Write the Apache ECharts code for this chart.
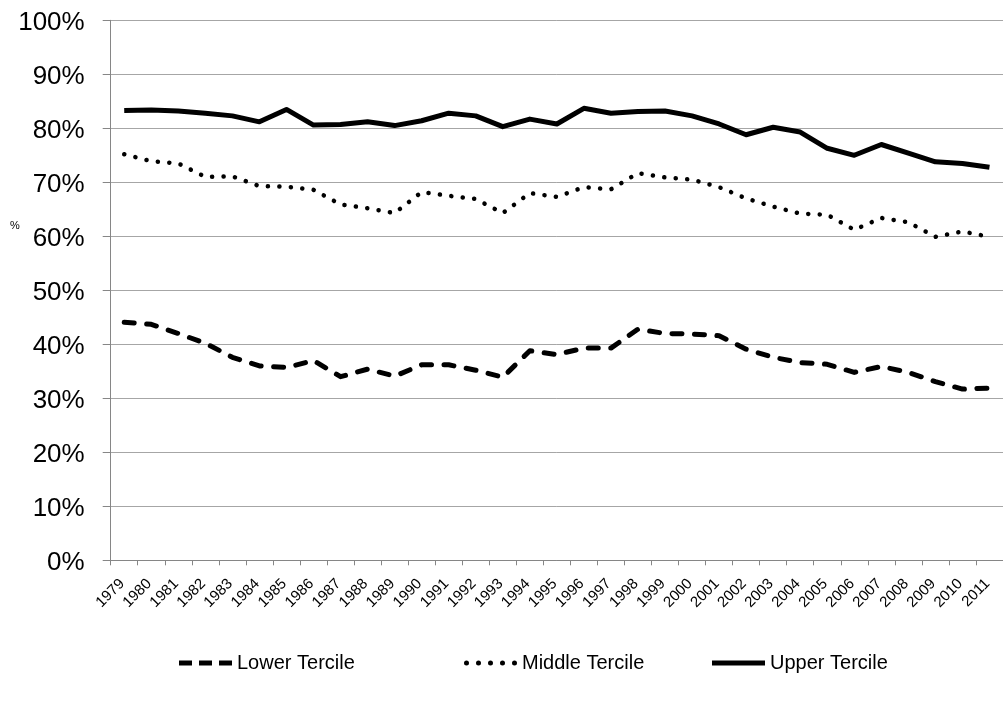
<!DOCTYPE html>
<html>
<head>
<meta charset="utf-8">
<script src="https://cdn.jsdelivr.net/npm/echarts@6/dist/echarts.min.js"></script>
<style>
html,body{margin:0;padding:0;background:#fff;}
#chart{width:1003px;height:706px;}
</style>
</head>
<body>
<div id="chart"></div>
<script>
const years = ['1979','1980','1981','1982','1983','1984','1985','1986','1987','1988','1989','1990','1991','1992','1993','1994','1995','1996','1997','1998','1999','2000','2001','2002','2003','2004','2005','2006','2007','2008','2009','2010','2011'];
const lowerTercile = [44.1,43.7,42.0,40.2,37.6,36.0,35.7,37.0,34.0,35.4,34.1,36.2,36.2,35.2,33.9,38.8,38.1,39.3,39.3,42.8,42.0,41.9,41.6,39.1,37.6,36.6,36.3,34.8,35.9,34.8,33.1,31.7,31.9];
const middleTercile = [75.2,73.9,73.5,71.0,71.1,69.3,69.2,68.6,65.9,65.2,64.3,68.2,67.5,66.9,64.3,68.0,67.3,69.1,68.7,71.7,70.9,70.5,69.1,67.0,65.5,64.2,64.0,61.2,63.4,62.6,59.9,60.9,59.9];
const upperTercile = [83.3,83.4,83.2,82.8,82.3,81.2,83.5,80.6,80.7,81.2,80.5,81.4,82.8,82.3,80.3,81.7,80.8,83.7,82.8,83.1,83.2,82.3,80.8,78.8,80.2,79.3,76.3,75.0,77.0,75.4,73.8,73.5,72.8];
const yTicks = [0,10,20,30,40,50,60,70,80,90,100];

const FONT = 'Liberation Sans, Arial, sans-serif';
const dashIcon = 'path://M0,0h13v5h-13z M20,0h13v5h-13z M40,0h13v5h-13z';
function dot(cx){ return 'M' + (cx-2.5) + ',2.5a2.5,2.5 0 1,0 5,0a2.5,2.5 0 1,0 -5,0z'; }
const dotIcon = 'path://' + [2.5,14.5,26.5,38.5,50.5].map(dot).join(' ');
const solidIcon = 'path://M0,0h53v5h-53z';

const chart = echarts.init(document.getElementById('chart'), null, {renderer:'canvas'});
function legendItem(name, icon, left){
  return {data:[{name:name, icon:icon}], left:left, top:653, itemWidth:53, itemHeight:5, itemGap:0,
    selectedMode:false, padding:0, itemStyle:{color:'#000', borderWidth:0},
    textStyle:{fontFamily:FONT, fontSize:20, color:'#000'}};
}
chart.setOption({
  animation:false,
  backgroundColor:'#fff',
  grid:{left:110.7, top:20.3, width:896, height:540, containLabel:false},
  xAxis:{
    type:'category', data:years, boundaryGap:true,
    axisLine:{lineStyle:{color:'#868686', width:1}},
    axisTick:{show:true, interval:0, length:5, lineStyle:{color:'#868686'}},
    axisLabel:{interval:0, rotate:45, margin:19, padding:[0,3,0,0], fontFamily:FONT, fontSize:15, color:'#000'},
    splitLine:{show:false}
  },
  yAxis:{
    type:'value', min:yTicks[0], max:yTicks[yTicks.length-1], interval:10,
    axisLine:{show:true, lineStyle:{color:'#868686', width:1}},
    axisTick:{show:true, length:8, lineStyle:{color:'#868686'}},
    axisLabel:{formatter:'{value}%', margin:26, verticalAlign:'top', lineHeight:6, fontFamily:FONT, fontSize:26, color:'#000'},
    splitLine:{show:true, lineStyle:{color:'#a6a6a6', width:1}}
  },
  legend:[legendItem('Lower Tercile', dashIcon, 179), legendItem('Middle Tercile', dotIcon, 464), legendItem('Upper Tercile', solidIcon, 712)],
  graphic:[{type:'text', left:10, top:220, style:{text:'%', fontSize:11, fontFamily:FONT, fill:'#000'}}],
  series:[
    {name:'Lower Tercile', type:'line', data:lowerTercile, symbol:'none', lineStyle:{color:'#000', width:5, type:[10,12.5], cap:'round', join:'round'}, itemStyle:{color:'#000'}},
    {name:'Middle Tercile', type:'line', data:middleTercile, symbol:'none', lineStyle:{color:'#000', width:4.5, type:[0.1,11.4], cap:'round', join:'round'}, itemStyle:{color:'#000'}},
    {name:'Upper Tercile', type:'line', data:upperTercile, symbol:'none', lineStyle:{color:'#000', width:5, type:'solid', join:'round'}, itemStyle:{color:'#000'}}
  ]
});
</script>
</body>
</html>
